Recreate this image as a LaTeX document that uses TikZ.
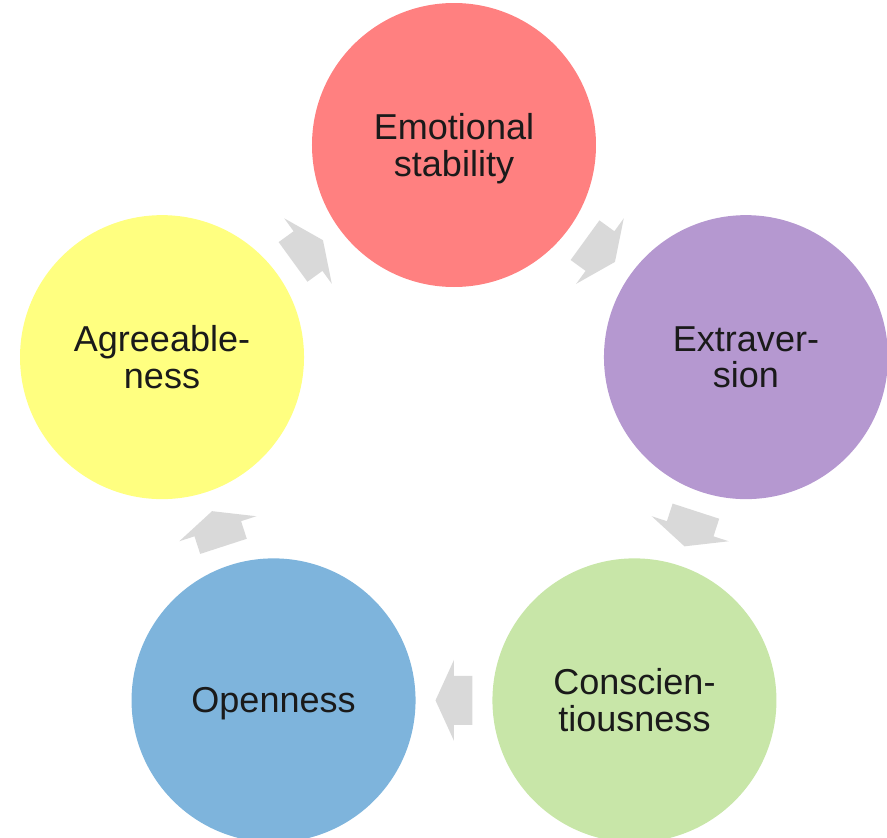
\documentclass[tikz,border=0pt]{standalone}
\usepackage{fontspec}
\setmainfont{Liberation Sans}
\usetikzlibrary{calc}
\begin{document}
\begin{tikzpicture}[
    trait/.style={circle, minimum size=5.68cm, inner sep=0pt, align=center,
        text depth=0pt, text=mytext, font=\fontsize{20.5}{21}\selectfont},
    cyclearrow/.style={fill=myarrow}
]
    \definecolor{myemo}{RGB}{255,128,128}
    \definecolor{myextra}{RGB}{181,152,208}
    \definecolor{mycons}{RGB}{200,230,168}
    \definecolor{myopen}{RGB}{126,180,220}
    \definecolor{myagree}{RGB}{255,255,128}
    \definecolor{myarrow}{RGB}{217,217,217}
    \definecolor{mytext}{RGB}{26,26,26}

    \useasboundingbox (-9.08,-7.72) rectangle (8.66,9.04);

    % the five traits on a pentagon
    \node[trait, fill=myemo] (emo) at (90:6.14) {Emotional\\stability};
    \node[trait, fill=myextra] (extra) at (18:6.14) {Extraver-\\sion};
    \node[trait, fill=mycons] (cons) at (-54:6.14) {Conscien-\\tiousness};
    \node[trait, fill=myopen] (open) at (-126:6.14) {Openness};
    \node[trait, fill=myagree] (agree) at (162:6.14) {Agreeable-\\ness};

    % block arrows half way between the circles
    \foreach \from/\to/\ang in {emo/extra/-36, extra/cons/-108, cons/open/180,
                                open/agree/108, agree/emo/36}
        \fill[cyclearrow, shift={($(\from)!0.5!(\to)$)}, rotate=\ang]
            (-0.37,0.49) -- (0,0.49) -- (0,0.81) -- (0.37,0) -- (0,-0.81)
            -- (0,-0.49) -- (-0.37,-0.49) -- cycle;
\end{tikzpicture}
\end{document}
